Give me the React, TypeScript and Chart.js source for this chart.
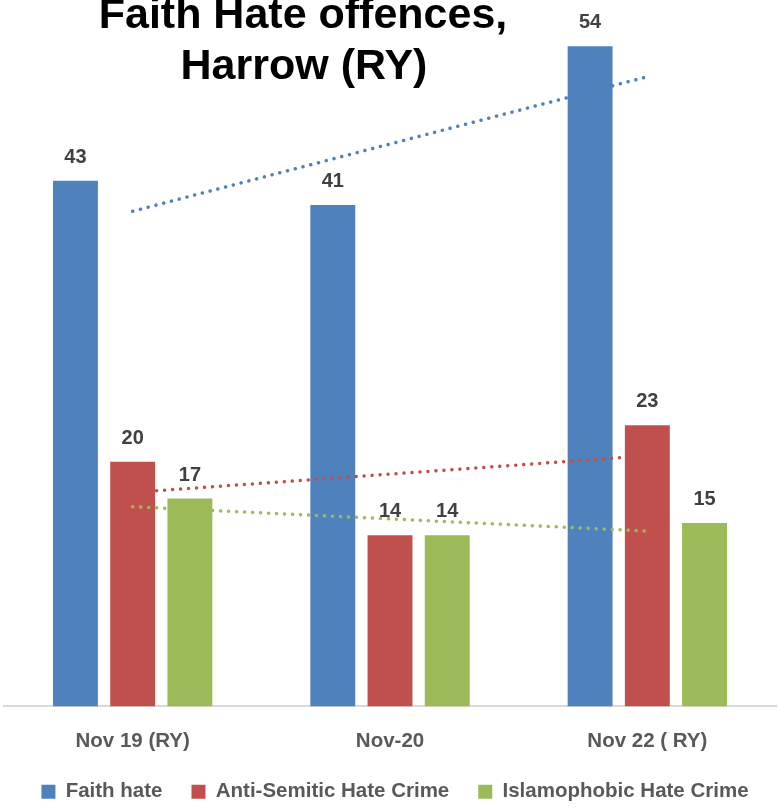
import React, { useEffect, useRef } from "react";
import { Chart, registerables } from "chart.js";

Chart.register(...registerables);

const categories = ["Nov 19 (RY)", "Nov-20", "Nov 22 ( RY)"];
const faithHate = [43, 41, 54];
const antiSemitic = [20, 14, 23];
const islamophobic = [17, 14, 15];
const seriesNames = ["Faith hate", "Anti-Semitic Hate Crime", "Islamophobic Hate Crime"];
const titleLines = ["Faith Hate offences,", "Harrow (RY)"];
const colors = ["#4F81BD", "#C0504D", "#9BBB59"];

// Linear (least squares) trendline, as Excel draws it
function linearTrend(values: number[]): number[] {
  const n = values.length;
  const xs = values.map((_, i) => i + 1);
  const mx = xs.reduce((a, b) => a + b, 0) / n;
  const my = values.reduce((a, b) => a + b, 0) / n;
  let num = 0;
  let den = 0;
  xs.forEach((x, i) => {
    num += (x - mx) * (values[i] - my);
    den += (x - mx) * (x - mx);
  });
  const slope = num / den;
  return xs.map((x) => my + slope * (x - mx));
}

const FONT = "'Liberation Sans', Arial, sans-serif";

const titlePlugin = {
  id: "customTitle",
  afterDraw(chart: any) {
    const ctx = chart.ctx;
    ctx.save();
    ctx.fillStyle = "#000000";
    ctx.font = `bold 43px ${FONT}`;
    ctx.textAlign = "center";
    ctx.textBaseline = "alphabetic";
    ctx.fillText(titleLines[0], 303, 28);
    ctx.fillText(titleLines[1], 304, 79);
    ctx.restore();
  },
};

const valueLabelPlugin = {
  id: "valueLabels",
  afterDraw(chart: any) {
    const ctx = chart.ctx;
    ctx.save();
    ctx.fillStyle = "#404040";
    ctx.font = `bold 20px ${FONT}`;
    ctx.textAlign = "center";
    ctx.textBaseline = "alphabetic";
    chart.data.datasets.forEach((ds: any, i: number) => {
      if (ds.type !== "bar") return;
      const meta = chart.getDatasetMeta(i);
      meta.data.forEach((el: any, j: number) => {
        ctx.fillText(String(ds.data[j]), el.x, el.y - 18);
      });
    });
    ctx.restore();
  },
};

// Tighten the legend box and nudge where it is drawn
const legendPlacePlugin = {
  id: "legendPlace",
  beforeInit(chart: any) {
    const legend = chart.legend;
    if (!legend) return;
    const originalFit = legend.fit;
    legend.fit = function fit() {
      originalFit.bind(legend)();
      this.height -= 31.5;
    };
  },
  afterLayout(chart: any) {
    const legend = chart.legend;
    if (!legend) return;
    legend.top -= 23.5;
    legend.bottom = chart.height;
    legend.height = legend.bottom - legend.top;
    legend.left += 5;
    legend.right += 5;
  },
};

export default function App() {
  const canvasRef = useRef<HTMLCanvasElement | null>(null);

  useEffect(() => {
    if (!canvasRef.current) return;
    const seriesData = [faithHate, antiSemitic, islamophobic];
    const barSets = seriesData.map((d, i) => ({
      type: "bar" as const,
      label: seriesNames[i],
      data: d,
      backgroundColor: colors[i],
      borderWidth: 0,
      categoryPercentage: 0.667,
      barPercentage: 0.785,
      order: 1,
    }));
    const trendSets = seriesData.map((d, i) => ({
      type: "line" as const,
      label: seriesNames[i] + " trend",
      data: linearTrend(d),
      borderColor: colors[i],
      borderWidth: 3.5,
      borderDash: [0.1, 7.9],
      borderCapStyle: "round" as const,
      pointRadius: 0,
      fill: false,
      tension: 0,
      order: 0,
    }));

    const chart = new Chart(canvasRef.current, {
      data: {
        labels: categories,
        datasets: [...barSets, ...trendSets] as any,
      },
      options: {
        animation: false,
        responsive: true,
        maintainAspectRatio: false,
        layout: { padding: { top: 9.5, left: 4, right: 2, bottom: 4 } },
        plugins: {
          title: { display: false },
          tooltip: { enabled: false },
          legend: {
            display: true,
            position: "bottom",
            labels: {
              filter: (item: any, data: any) => data.datasets[item.datasetIndex].type === "bar",
              boxWidth: 14,
              boxHeight: 14,
              padding: 29,
              color: "#595959",
              font: { family: FONT, size: 20.5, weight: "bold" },
            },
          },
        },
        scales: {
          x: {
            grid: { display: false, drawTicks: false },
            border: { display: true, color: "#d9d9d9", width: 2 },
            ticks: {
              color: "#595959",
              padding: 22.5,
              font: { family: FONT, size: 20.5, weight: "bold" },
            },
          },
          y: {
            display: false,
            min: 0,
            max: 57,
          },
        },
      },
      plugins: [titlePlugin, valueLabelPlugin, legendPlacePlugin],
    } as any);
    return () => chart.destroy();
  }, []);

  return (
    <div style={{ position: "absolute", left: 0, top: 0, width: 778, height: 808, background: "#ffffff" }}>
      <canvas ref={canvasRef} />
    </div>
  );
}
